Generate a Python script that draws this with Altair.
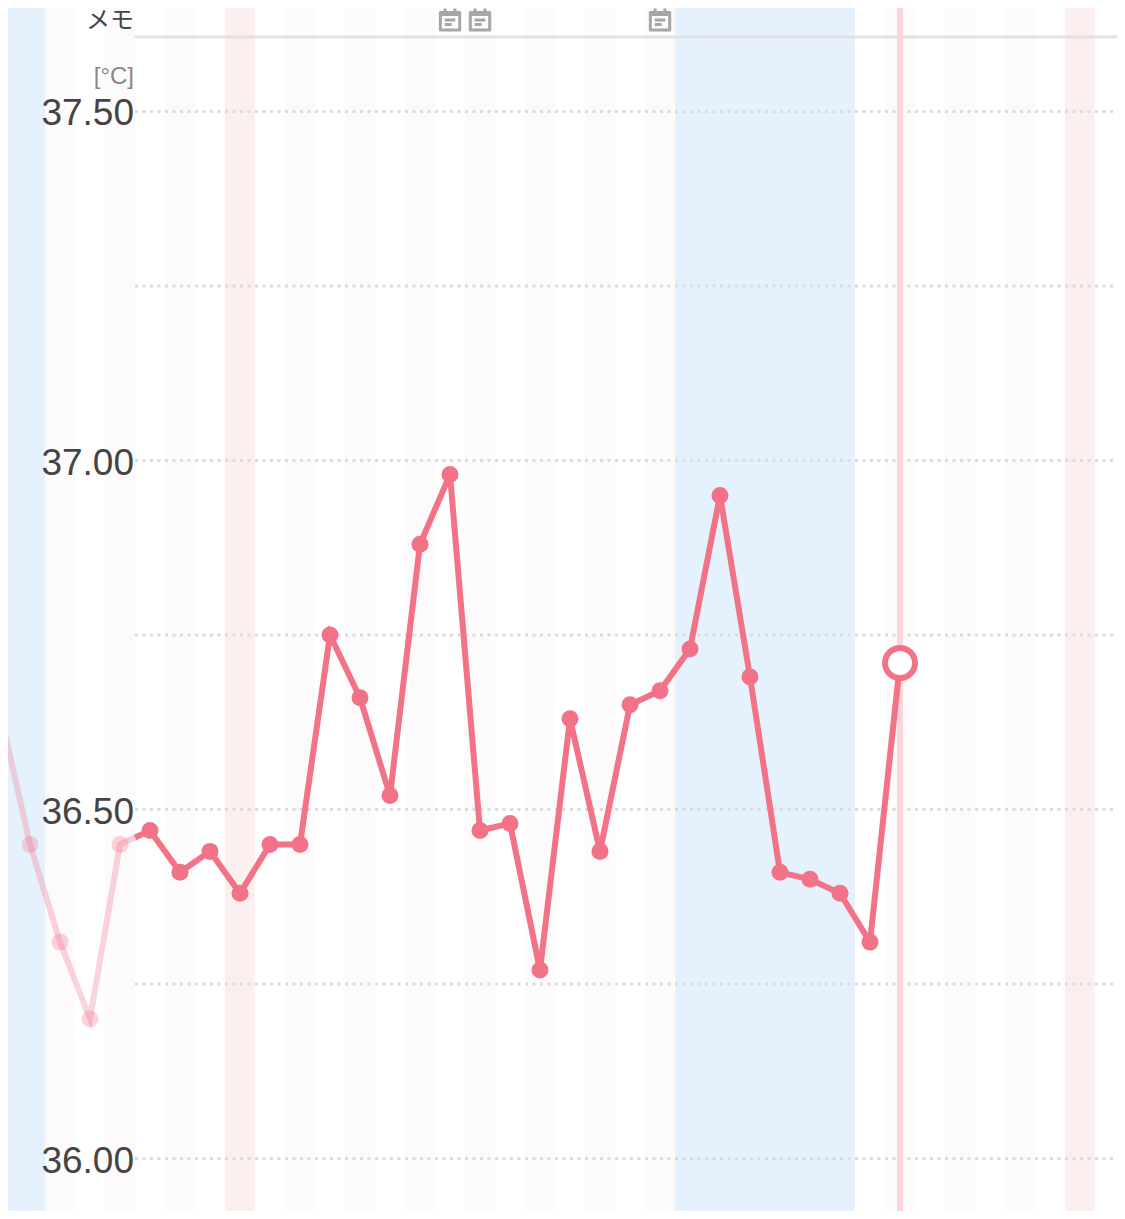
import altair as alt
import pandas as pd

days = list(range(0, 31))
temps = [36.64, 36.45, 36.31, 36.20, 36.45, 36.47, 36.41, 36.44, 36.38, 36.45, 36.45,
         36.75, 36.66, 36.52, 36.88, 36.98, 36.47, 36.48, 36.27, 36.63, 36.44,
         36.65, 36.67, 36.73, 36.95, 36.69, 36.41, 36.40, 36.38, 36.31, 36.71]
fade_end_day = 4.5
fade_end_temp = 36.46
pale_days = [2, 4, 6, 10, 12, 14, 16, 18, 20, 22, 30, 32, 34]
strong_days = [8, 36]
blue_starts = [-2, 22.5]
blue_ends = [1.5, 28.5]
grid_major = [36.0, 36.5, 37.0, 37.5]
grid_minor = [36.25, 36.75, 37.25]
tick_labels = ["36.00", "36.50", "37.00", "37.50"]
memo_days = [15, 16, 22]
today = 30
today_temp = 36.71

RED = "#f27287"
CAL = "M-0.88,-0.68H0.88V0.9H-0.88Z M-0.88,-0.5H0.88 M-0.45,-1.05V-0.68 M0.45,-1.05V-0.68 M-0.48,0.0H0.48 M-0.48,0.42H0.15"

x_s = alt.Scale(domain=[8 / 30, 1117 / 30], nice=False, zero=False)
y_s = alt.Scale(domain=[35.92479, 37.64828], nice=False, zero=False)
X = lambda f="day": alt.X(f"{f}:Q", scale=x_s, axis=None)
Y = lambda f="t": alt.Y(f"{f}:Q", scale=y_s, axis=None)

def band_df(ds):
    return pd.DataFrame({"a": [d - .5 for d in ds], "b": [d + .5 for d in ds]})

pale = alt.Chart(band_df(pale_days)).mark_rect(color="#fdfafb").encode(X("a"), x2="b:Q")
strong = alt.Chart(band_df(strong_days)).mark_rect(color="#fbefef").encode(X("a"), x2="b:Q")
blue = alt.Chart(pd.DataFrame({"a": blue_starts, "b": blue_ends})).mark_rect(color="#e5f2fe").encode(X("a"), x2="b:Q")

grid = alt.Chart(pd.DataFrame({"t": grid_major + grid_minor})).mark_rule(
    color="#dcdcdc", strokeWidth=3, strokeDash=[3, 4.5]
).encode(Y(), x=alt.value(127), x2=alt.value(1109))

memo_rule = alt.Chart(pd.DataFrame({"k": [0]})).mark_rule(color="#e2e2e2", strokeWidth=3).encode(
    x=alt.value(127), x2=alt.value(1109), y=alt.value(29))

today_rule = alt.Chart(pd.DataFrame({"day": [today]})).mark_rule(color="#fad5d9", strokeWidth=6).encode(X())

df = pd.DataFrame({"day": days, "t": temps})
faded_line_df = pd.concat([df[df.day <= 4], pd.DataFrame({"day": [fade_end_day], "t": [fade_end_temp]})])
strong_line_df = pd.concat([pd.DataFrame({"day": [fade_end_day], "t": [fade_end_temp]}), df[df.day >= 5]])

faded_line = alt.Chart(faded_line_df).mark_line(color=RED, strokeWidth=6, opacity=.3).encode(X(), Y())
faded_pts = alt.Chart(df[df.day <= 4]).mark_circle(color=RED, size=289, opacity=.3).encode(X(), Y())
strong_line = alt.Chart(strong_line_df).mark_line(color=RED, strokeWidth=6).encode(X(), Y())
strong_pts = alt.Chart(df[(df.day >= 5) & (df.day < today)]).mark_circle(color=RED, size=289, opacity=1).encode(X(), Y())
ring = alt.Chart(pd.DataFrame({"day": [today], "t": [today_temp]})).mark_point(
    shape="circle", filled=True, fill="white", stroke=RED, strokeWidth=6, size=900, opacity=1
).encode(X(), Y())

ticks = alt.Chart(pd.DataFrame({"t": grid_major, "s": tick_labels})).mark_text(
    align="right", baseline="middle", font="Liberation Sans", fontSize=37, color="#444444", dy=3
).encode(Y(), x=alt.value(126), text="s:N")
memo_label = alt.Chart(pd.DataFrame({"s": ["メモ"]})).mark_text(
    align="right", baseline="middle", font="Noto Sans CJK JP", fontSize=24, color="#444444"
).encode(x=alt.value(126), y=alt.value(13), text="s:N")
unit_label = alt.Chart(pd.DataFrame({"s": ["[°C]"]})).mark_text(
    align="right", baseline="middle", font="Liberation Sans", fontSize=24, color="#888888"
).encode(x=alt.value(126), y=alt.value(69), text="s:N")
icons = alt.Chart(pd.DataFrame({"day": memo_days})).mark_point(
    shape=CAL, filled=False, stroke="#a6a6a6", strokeWidth=3, size=484, opacity=1, strokeJoin="round"
).encode(X(), y=alt.value(12))

chart = alt.layer(
    blue, pale, strong, grid, memo_rule, today_rule,
    faded_line, faded_pts, strong_line, strong_pts, ring,
    ticks, memo_label, unit_label, icons,
).properties(
    width=1109, height=1203, padding=0, background="white",
    autosize=alt.AutoSizeParams(type="none"),
).configure_view(stroke=None)

chart.save("out.html", embed_options={"renderer": "svg", "actions": False})
